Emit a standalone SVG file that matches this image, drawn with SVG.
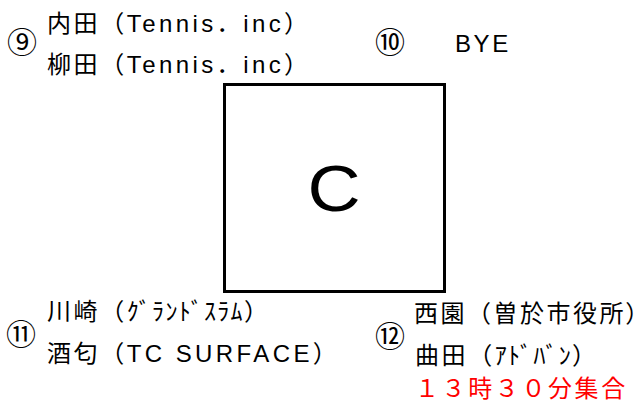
<svg xmlns="http://www.w3.org/2000/svg" width="640" height="406" viewBox="0 0 640 406">
<style>
.t{font-family:"Liberation Sans","Noto Sans CJK JP",sans-serif;font-size:24px;letter-spacing:2.6px;fill:#000}
.l{letter-spacing:3.4px}
.k{letter-spacing:1.3px}
.p{letter-spacing:0;font-feature-settings:"palt" 1}
.n{font-family:"Noto Sans CJK JP",sans-serif;font-size:30px;fill:#000;text-anchor:middle;dominant-baseline:central}
.r{fill:#ff0000}
</style>
<rect width="640" height="406" fill="#fff"/>
<g id="court-c">
<rect x="224.5" y="84.5" width="220" height="207" fill="#fff" stroke="#000" stroke-width="3"/>
<text x="0" y="0" text-anchor="middle" font-family="Liberation Sans,sans-serif" font-size="64" transform="translate(334,211) scale(1.15,1)">C</text>
</g>
<g id="team-9">
<text class="n" x="22" y="40">⑨</text>
<text class="t" x="47" y="32">内田（<tspan class="l">Tennis</tspan>．<tspan class="l">inc</tspan>）</text>
<text class="t" x="47" y="73">柳田（<tspan class="l">Tennis</tspan>．<tspan class="l">inc</tspan>）</text>
</g>
<g id="team-10">
<text class="n" x="390" y="40">⑩</text>
<text class="t" x="455" y="52">BYE</text>
</g>
<g id="team-11">
<text class="n" x="21" y="332">⑪</text>
<text class="t" x="47" y="320">川崎（<tspan class="k">ｸﾞﾗﾝﾄﾞｽﾗﾑ</tspan>）</text>
<text class="t" x="47" y="362">酒匂（<tspan class="l">TC SURFACE</tspan>）</text>
</g>
<g id="team-12">
<text class="n" x="390" y="334">⑫</text>
<text class="t" x="414" y="322" style="letter-spacing:2.5px">西園（曽於市役所<tspan class="p">）</tspan></text>
<text class="t" x="415" y="364">曲田（<tspan class="k">ｱﾄﾞﾊﾞﾝ</tspan>）</text>
<text class="t r" x="415" y="397">１３時３０分集合</text>
</g>
<g id="connectors"></g>
</svg>
